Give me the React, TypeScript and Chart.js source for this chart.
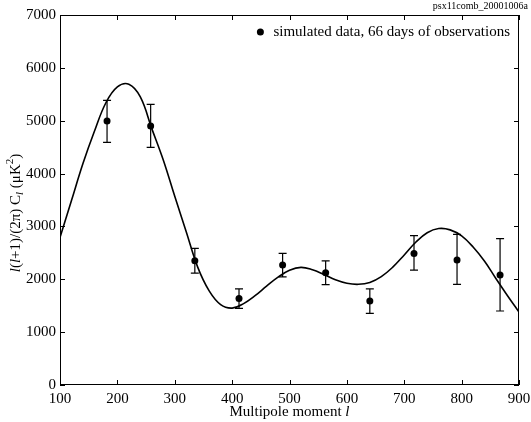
import React, { useEffect, useRef } from "react";
import { Chart, registerables } from "chart.js";
Chart.register(...registerables);

// Theory curve (every 20 in l)
const curveL = [100, 120, 140, 160, 180, 200, 220, 240, 260, 280, 300, 320, 340, 360, 380, 400, 420, 440, 460, 480, 500, 520, 540, 560, 580, 600, 620, 640, 660, 680, 700, 720, 740, 760, 780, 800, 820, 840, 860, 880, 900];
const curveV = [2790, 3490, 4190, 4800, 5340, 5640, 5690, 5450, 4850, 4257, 3570, 2900, 2230, 1780, 1520, 1455, 1540, 1690, 1870, 2040, 2170, 2226, 2180, 2090, 1990, 1925, 1905, 1940, 2050, 2230, 2460, 2700, 2880, 2960, 2935, 2820, 2610, 2340, 2010, 1690, 1380];

// Simulated data points with error bars
const dataL = [182, 258, 335, 412, 488, 563, 640, 717, 792, 867];
const dataV = [4995, 4900, 2350, 1635, 2270, 2125, 1590, 2490, 2365, 2080];
const errLo = [4590, 4495, 2115, 1450, 2045, 1900, 1355, 2175, 1905, 1400];
const errHi = [5385, 5310, 2585, 1820, 2490, 2350, 1820, 2825, 2850, 2770];

const xTicks = [100, 200, 300, 400, 500, 600, 700, 800, 900];
const yTicks = [0, 1000, 2000, 3000, 4000, 5000, 6000, 7000];

const legendLabel = "simulated data, 66 days of observations";
const cornerLabel = "psx11comb_20001006a";
const xTitle = [{ t: "Multipole moment " }, { t: "l", i: true }];
const yTitle = [
  { t: "l", i: true },
  { t: "(" },
  { t: "l", i: true },
  { t: "+1)/(2π) C" },
  { t: "l", i: true, sub: true },
  { t: " (μK" },
  { t: "2", sup: true },
  { t: ")" },
];

const FONT = "'Liberation Serif', 'DejaVu Serif', serif";
const FS = 15;

type Piece = { t: string; i?: boolean; sub?: boolean; sup?: boolean };

function fontFor(p: Piece) {
  const size = p.sub || p.sup ? Math.round(FS * 0.7) : FS;
  return `${p.i ? "italic " : ""}${size}px ${FONT}`;
}

function drawRich(ctx: CanvasRenderingContext2D, pieces: Piece[], cx: number, cy: number) {
  let total = 0;
  const widths = pieces.map((p) => {
    ctx.font = fontFor(p);
    const w = ctx.measureText(p.t).width;
    total += w;
    return w;
  });
  let x = cx - total / 2;
  ctx.textBaseline = "middle";
  ctx.textAlign = "left";
  pieces.forEach((p, k) => {
    ctx.font = fontFor(p);
    const dy = p.sub ? 4 : p.sup ? -6 : 0;
    ctx.fillText(p.t, x, cy + dy);
    x += widths[k];
  });
}

const decorPlugin = {
  id: "decor",
  afterDatasetsDraw(chart: any) {
    const ctx: CanvasRenderingContext2D = chart.ctx;
    const { left, right, top, bottom } = chart.chartArea;
    const xs = chart.scales.x;
    const ys = chart.scales.y;
    ctx.save();
    ctx.strokeStyle = "#000";
    ctx.fillStyle = "#000";
    // error bars
    ctx.lineWidth = 1.2;
    dataL.forEach((l, k) => {
      const px = xs.getPixelForValue(l);
      const y1 = ys.getPixelForValue(errLo[k]);
      const y2 = ys.getPixelForValue(errHi[k]);
      ctx.beginPath();
      ctx.moveTo(px, y1);
      ctx.lineTo(px, y2);
      ctx.moveTo(px - 4, y1);
      ctx.lineTo(px + 4, y1);
      ctx.moveTo(px - 4, y2);
      ctx.lineTo(px + 4, y2);
      ctx.stroke();
    });
    // frame
    ctx.lineWidth = 1;
    ctx.strokeRect(left + 0.5, top + 0.5, right - left - 1, bottom - top - 1);
    // inward ticks
    const tl = 5;
    ctx.beginPath();
    xTicks.forEach((v) => {
      const px = Math.round(xs.getPixelForValue(v)) + 0.5;
      ctx.moveTo(px, bottom);
      ctx.lineTo(px, bottom - tl);
      ctx.moveTo(px, top);
      ctx.lineTo(px, top + tl);
    });
    yTicks.forEach((v) => {
      const py = Math.round(ys.getPixelForValue(v)) + 0.5;
      ctx.moveTo(left, py);
      ctx.lineTo(left + tl, py);
      ctx.moveTo(right, py);
      ctx.lineTo(right - tl, py);
    });
    ctx.stroke();
    // legend
    const ly = top + 17;
    ctx.font = `${FS}px ${FONT}`;
    ctx.textAlign = "right";
    ctx.textBaseline = "middle";
    const tx = right - 9;
    ctx.fillText(legendLabel, tx, ly);
    const tw = ctx.measureText(legendLabel).width;
    ctx.beginPath();
    ctx.arc(tx - tw - 13, ly, 3.5, 0, Math.PI * 2);
    ctx.fill();
    // corner label
    ctx.font = `10px ${FONT}`;
    ctx.textAlign = "right";
    ctx.textBaseline = "middle";
    ctx.fillText(cornerLabel, chart.width - 3, 6);
    // x title
    drawRich(ctx, xTitle, (left + right) / 2, bottom + 27);
    // y title
    ctx.save();
    ctx.translate(16, (top + bottom) / 2 + 13);
    ctx.rotate(-Math.PI / 2);
    drawRich(ctx, yTitle, 0, 0);
    ctx.restore();
    ctx.restore();
  },
};

export default function App() {
  const ref = useRef<HTMLCanvasElement | null>(null);
  useEffect(() => {
    document.body.style.margin = "0";
    if (!ref.current) return;
    const chart = new Chart(ref.current, {
      type: "scatter",
      data: {
        datasets: [
          {
            label: "theory",
            data: curveL.map((l, k) => ({ x: l, y: curveV[k] })),
            showLine: true,
            borderColor: "#000",
            borderWidth: 1.6,
            pointRadius: 0,
            tension: 0.4,
            order: 2,
          },
          {
            label: legendLabel,
            data: dataL.map((l, k) => ({ x: l, y: dataV[k] })),
            showLine: false,
            pointRadius: 3.5,
            backgroundColor: "#000",
            borderColor: "#000",
            borderWidth: 0,
            order: 1,
          },
        ],
      },
      options: {
        animation: false,
        responsive: false,
        layout: { padding: { top: 15, right: 12, left: 0, bottom: 0 } },
        plugins: { legend: { display: false }, tooltip: { enabled: false }, title: { display: false } },
        scales: {
          x: {
            type: "linear",
            min: 100,
            max: 900,
            afterFit: (s: any) => {
              s.height = 37;
              s.paddingLeft = 0;
              s.paddingRight = 0;
            },
            afterBuildTicks: (s: any) => {
              s.ticks = xTicks.map((v) => ({ value: v }));
            },
            grid: { display: false, drawTicks: false },
            border: { display: false },
            ticks: { color: "#000", font: { family: FONT, size: FS }, padding: 5, maxRotation: 0 },
          },
          y: {
            type: "linear",
            min: 0,
            max: 7000,
            afterFit: (s: any) => {
              s.width = 60;
              s.paddingTop = 0;
              s.paddingBottom = 0;
            },
            afterBuildTicks: (s: any) => {
              s.ticks = yTicks.map((v) => ({ value: v }));
            },
            grid: { display: false, drawTicks: false },
            border: { display: false },
            ticks: { color: "#000", font: { family: FONT, size: FS }, padding: 4, callback: (v: any) => String(v) },
          },
        },
      } as any,
      plugins: [decorPlugin],
    });
    return () => chart.destroy();
  }, []);
  return (
    <div style={{ position: "absolute", left: 0, top: 0, width: 531, height: 422, background: "#fff" }}>
      <canvas ref={ref} width={531} height={422} style={{ display: "block" }} />
    </div>
  );
}
